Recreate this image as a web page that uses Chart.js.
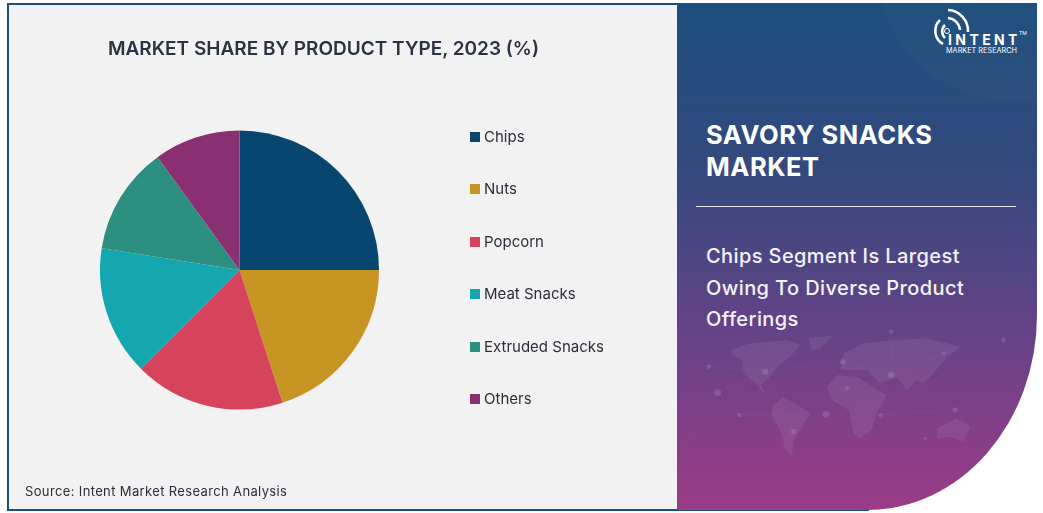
<!DOCTYPE html>
<html>
<head>
<meta charset="utf-8">
<title>Savory Snacks Market</title>
<script src="https://cdn.jsdelivr.net/npm/chart.js@4"></script>
<style>
    html, body { margin: 0; padding: 0; background: #fff; }
    body { width: 1043px; height: 513px; position: relative; overflow: hidden; font-family: Inter, sans-serif; }

    /* left grey box */
    #leftBox { position: absolute; left: 7px; top: 3px; width: 670px; height: 507px; background: #f2f2f2; border-top: 2px solid #1d5072; border-left: 2px solid #1d5072; box-sizing: border-box; }
    #bottomLine { position: absolute; left: 7px; top: 509px; width: 862px; height: 2px; background: #1d5072; }
    #chartWrap { position: absolute; left: 0; top: 0; width: 479px; height: 513px; }
    #title { position: absolute; left: 108px; top: 37px; font-size: 19px; line-height: 24px; font-weight: 600; color: #2a3344; white-space: nowrap; }
    #legend { position: absolute; left: 470px; top: 0; }
    .legendItem { position: absolute; left: 0; white-space: nowrap; font-size: 15px; line-height: 18px; color: #2b2f3a; }
    .legendItem i { position: absolute; left: 0; top: 4px; width: 10px; height: 10px; }
    .legendItem span { position: absolute; left: 14px; top: 0; }
    #source { position: absolute; left: 25px; top: 483px; font-size: 13px; line-height: 16px; letter-spacing: 0.36px; color: #2b2f3a; white-space: nowrap; }

    /* right panel */
    #panel { position: absolute; left: 677px; top: 3px; width: 360px; height: 507px; border-bottom-right-radius: 170px 195px; overflow: hidden;
        background: linear-gradient(180deg, #1b4e7c 0%, #36497f 35%, #6a4288 68%, #9c3b86 100%); color: #fff; }
    #arc { position: absolute; left: 200px; top: -160px; width: 290px; height: 260px; border-radius: 50%; background: rgba(255,255,255,0.02); }
    #panel svg { position: absolute; left: 0; top: 0; }
    #heading { position: absolute; left: 29px; top: 116px; font-size: 25.5px; line-height: 32px; font-weight: 700; letter-spacing: 0.55px; white-space: nowrap; }
    #rule { position: absolute; left: 19px; top: 203px; width: 320px; height: 1px; background: #e6e6ee; }
    #sub { position: absolute; left: 29px; top: 238px; font-size: 20px; line-height: 31.5px; font-weight: 500; letter-spacing: 0.4px; white-space: nowrap; color: #f4f2f8; }
    #logo { position: absolute; left: 930px; top: 0; width: 100px; height: 60px; color: #fff; }
    #logoName { position: absolute; left: 18px; top: 32px; font-size: 14px; line-height: 16px; font-weight: 700; letter-spacing: 3.4px; }
    #logoTm { position: absolute; left: 89px; top: 30px; font-size: 5px; line-height: 6px; }
    #logoSub { position: absolute; left: 16px; top: 46px; font-size: 7.3px; line-height: 9px; white-space: nowrap; }
</style>
</head>
<body>
<div id="leftBox"></div>
<div id="bottomLine"></div>
<div id="chartWrap"><canvas id="pieChart" width="479" height="513"></canvas></div>
<div id="title"></div>
<div id="legend"></div>
<div id="source">Source: Intent Market Research Analysis</div>

<div id="panel">
    <div id="arc"></div>
    <svg width="360" height="507">
        <!-- rough world map in the background, coordinates taken at 3x -->
        <g transform="translate(0 317) scale(0.3333)">
            <g fill="#fff" fill-opacity="0.07">
                <path d="M160 90 L220 70 L330 60 L370 75 L340 110 L300 140 L280 170 L250 195 L275 235 L235 190 L200 160 L195 120 L165 105 Z"/>
                <path d="M395 55 L470 45 L430 85 L405 90 Z"/>
                <path d="M285 260 L320 230 L370 260 L400 280 L375 320 L350 360 L345 410 L325 390 L310 330 L285 290 Z"/>
                <path d="M450 200 L480 165 L540 170 L610 215 L630 225 L600 280 L585 330 L550 355 L530 340 L515 270 L465 240 Z"/>
                <path d="M500 100 L560 70 L650 60 L750 55 L850 80 L810 110 L770 160 L740 190 L720 180 L690 210 L660 170 L610 190 L570 150 L490 150 Z"/>
                <path d="M780 325 L840 295 L880 320 L860 365 L820 350 L780 355 Z"/>
            </g>
            <g stroke="#fff" stroke-opacity="0.05" stroke-width="2" fill="none">
                <path d="M95 140 L265 155 L497 125 L643 165 L800 100 L980 60"/>
                <path d="M122 218 L265 155 L350 335 L447 283 L510 205 L643 165 L835 270"/>
                <path d="M187 285 L447 283 M510 205 L610 285 L835 270 M643 35 L643 165 L550 340 M0 420 L122 218"/>
            </g>
            <g fill="#fff" fill-opacity="0.12">
                <circle cx="95" cy="140" r="7"/><circle cx="122" cy="218" r="10"/><circle cx="187" cy="285" r="7"/>
                <circle cx="265" cy="155" r="9"/><circle cx="447" cy="283" r="10"/><circle cx="497" cy="125" r="8"/>
                <circle cx="643" cy="165" r="10"/><circle cx="350" cy="335" r="8"/><circle cx="510" cy="205" r="6"/>
                <circle cx="610" cy="285" r="7"/><circle cx="835" cy="270" r="8"/><circle cx="800" cy="100" r="6"/>
                <circle cx="980" cy="60" r="7"/><circle cx="643" cy="35" r="7"/><circle cx="745" cy="355" r="5"/>
            </g>
        </g>
    </svg>
    <div id="heading">SAVORY SNACKS<br>MARKET</div>
    <div id="rule"></div>
    <div id="sub">Chips Segment Is Largest<br>Owing To Diverse Product<br>Offerings</div>
</div>

<div id="logo">
    <svg width="100" height="60" fill="none" stroke="#fff" style="position:absolute;left:0;top:0">
        <path stroke-width="2.5" d="M18 10 A21 21 0 0 1 38 32"/>
        <path stroke-width="2.5" d="M18 18 A13 13 0 0 1 30 30"/>
        <path stroke-width="2.5" d="M10 20 A15 15 0 0 0 13 44"/>
        <path stroke-width="2.5" d="M15 25 A9 9 0 0 0 15 38"/>
        <circle cx="17" cy="31" r="2.5" stroke-width="1"/>
    </svg>
    <div id="logoName">INTENT</div>
    <div id="logoTm">TM</div>
    <div id="logoSub">MARKET RESEARCH</div>
</div>

<script>
    // Dữ liệu biểu đồ
    const categories = ['Chips', 'Nuts', 'Popcorn', 'Meat Snacks', 'Extruded Snacks', 'Others'];
    const shares = [25, 20, 17.5, 15, 12.5, 10];
    const colors = ['#07476f', '#c69524', '#d6445c', '#14a7b0', '#2d8f80', '#8a2f72'];
    const titleText = 'MARKET SHARE BY PRODUCT TYPE, 2023 (%)';

    document.addEventListener("DOMContentLoaded", function () {
        document.getElementById('title').textContent = titleText;

        // Legend rows, spaced like the original
        const legend = document.getElementById('legend');
        categories.forEach(function (name, i) {
            const row = document.createElement('div');
            row.className = 'legendItem';
            row.style.top = (128 + i * 52.4) + 'px';
            row.innerHTML = '<i style="background:' + colors[i] + '"></i><span>' + name + '</span>';
            legend.appendChild(row);
        });

        new Chart(document.getElementById('pieChart').getContext('2d'), {
            type: 'pie',
            data: {
                labels: categories,
                datasets: [{ data: shares, backgroundColor: colors, borderWidth: 0, radius: 139.5 }]
            },
            options: {
                responsive: false,
                animation: false,
                layout: { padding: { top: 27 } },
                plugins: {
                    legend: { display: false },
                    tooltip: { enabled: false }
                }
            }
        });
    });
</script>
</body>
</html>
